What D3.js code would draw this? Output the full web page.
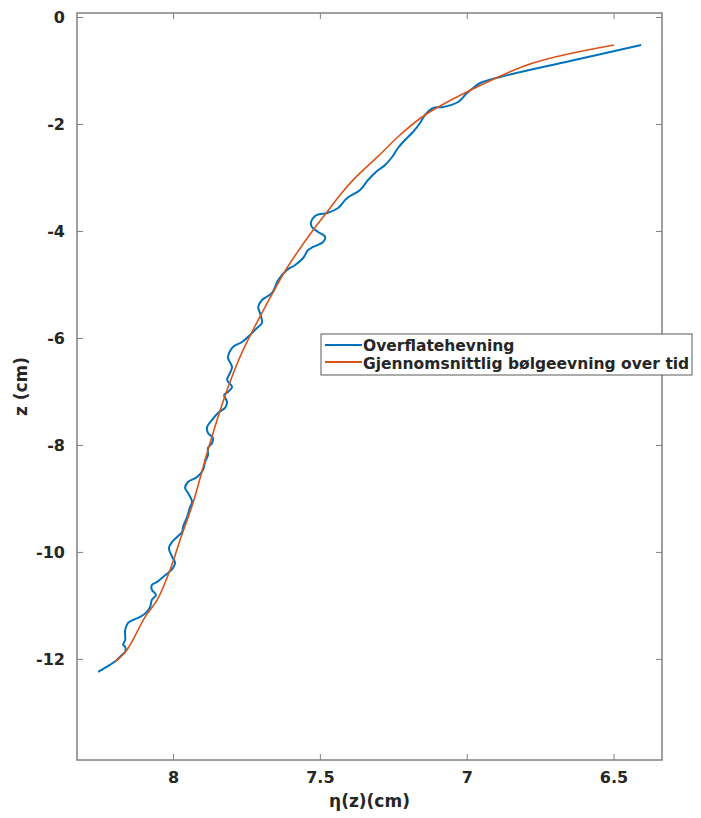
<!DOCTYPE html>
<html>
<head>
<meta charset="utf-8">
<script src="https://cdn.jsdelivr.net/npm/d3@7"></script>
<style>
    body { margin: 0; background: #fff; }
    #chart { width: 701px; height: 818px; }
    text { font-family: "DejaVu Sans", sans-serif; font-weight: bold; fill: #262626; }
</style>
</head>
<body>
<div id="chart"></div>
<script>
//Datos: eta (cm) y z (cm) de cada serie
let blueEta = [8.255, 8.215, 8.191, 8.174, 8.163, 8.163, 8.170, 8.163, 8.163, 8.153, 8.136, 8.112, 8.089, 8.078, 8.072, 8.058, 8.072, 8.072, 8.054, 8.034,
    8.017, 8.000, 7.993, 8.003, 8.014, 8.003, 7.986, 7.969, 7.966, 7.952, 7.942, 7.935, 7.949, 7.959, 7.949, 7.918, 7.898, 7.891, 7.881, 7.881,
    7.867, 7.864, 7.881, 7.884, 7.867, 7.847, 7.823, 7.816, 7.826, 7.813, 7.799, 7.816, 7.806, 7.799, 7.813, 7.809, 7.796, 7.765, 7.738, 7.714,
    7.697, 7.704, 7.710, 7.697, 7.663, 7.642, 7.612, 7.584, 7.557, 7.540, 7.523, 7.489, 7.482, 7.506, 7.527, 7.530, 7.510, 7.475, 7.438, 7.407,
    7.363, 7.336, 7.309, 7.278, 7.254, 7.234, 7.210, 7.183, 7.159, 7.142, 7.114, 7.080, 7.029, 6.999, 6.978, 6.954, 6.886, 6.648, 6.406];
let blueZ = [-12.243, -12.112, -12.019, -11.925, -11.869, -11.776, -11.738, -11.645, -11.458, -11.327, -11.271, -11.215, -11.121, -11.028, -10.897, -10.804, -10.710, -10.617, -10.561, -10.467,
    -10.393, -10.299, -10.206, -10.093, -9.925, -9.813, -9.720, -9.626, -9.533, -9.346, -9.159, -9.065, -8.897, -8.804, -8.692, -8.598, -8.467, -8.318, -8.187, -8.056,
    -7.963, -7.869, -7.776, -7.664, -7.533, -7.402, -7.308, -7.196, -7.065, -7.009, -6.916, -6.785, -6.654, -6.542, -6.374, -6.280, -6.168, -6.075, -5.944, -5.813,
    -5.720, -5.533, -5.421, -5.290, -5.159, -4.916, -4.729, -4.636, -4.505, -4.355, -4.299, -4.206, -4.112, -4.019, -3.925, -3.832, -3.701, -3.664, -3.570, -3.383,
    -3.234, -3.047, -2.897, -2.766, -2.617, -2.449, -2.299, -2.150, -1.981, -1.832, -1.701, -1.682, -1.589, -1.421, -1.327, -1.234, -1.121, -0.822, -0.523];

let orangeEta = [8.198, 8.157, 8.095, 8.054, 8.010, 7.976, 7.932, 7.884, 7.850, 7.816, 7.772, 7.731, 7.636, 7.612, 7.523, 7.478, 7.432, 7.384, 7.303, 7.227, 7.142, 6.965, 6.774, 6.498];
let orangeZ = [-12.056, -11.832, -11.215, -10.897, -10.336, -9.776, -9.084, -8.150, -7.533, -6.972, -6.355, -5.888, -4.916, -4.692, -3.981, -3.664, -3.330, -3.030, -2.610, -2.206, -1.832, -1.308, -0.860, -0.523];

let xTicks = [8, 7.5, 7, 6.5];
let yTicks = [0, -2, -4, -6, -8, -10, -12];
let seriesNames = ['Overflatehevning', 'Gjennomsnittlig bølgeevning over tid'];

//Colores fijos
const COLOR_BLUE = '#0072BD',
COLOR_ORANGE = '#D95319',
COLOR_AXIS = '#808080';

let margin = {top: 13, right: 39, bottom: 58, left: 77},
    width = 701 - margin.left - margin.right,
    height = 818 - margin.top - margin.bottom;

let svg = d3.select('#chart')
    .append('svg')
      .attr('width', 701)
      .attr('height', 818);

let chart = svg.append('g')
    .attr('transform', 'translate(' + margin.left + ',' + margin.top + ')');

//Eje X (invertido)
let x = d3.scaleLinear()
    .domain([8.327, 6.335])
    .range([0, width]);

//Eje Y
let y = d3.scaleLinear()
    .domain([-13.89, 0.075])
    .range([height, 0]);

function styleAxis(g) {
    g.select('.domain').remove();
    g.selectAll('.tick line').attr('stroke', COLOR_AXIS);
    g.selectAll('.tick text').style('font-size', '16px').attr('fill', '#262626');
}

chart.append('g')
    .attr('transform', 'translate(0,' + height + ')')
    .call(d3.axisBottom(x).tickValues(xTicks).tickSizeInner(-6).tickSizeOuter(0).tickPadding(12).tickFormat(d3.format('')))
    .call(styleAxis);

chart.append('g')
    .call(d3.axisTop(x).tickValues(xTicks).tickSizeInner(-6).tickSizeOuter(0).tickFormat(''))
    .call(styleAxis);

chart.append('g')
    .call(d3.axisLeft(y).tickValues(yTicks).tickSizeInner(-6).tickSizeOuter(0).tickPadding(12).tickFormat(function(d) { return d < 0 ? '-' + Math.abs(d) : d; }))
    .call(styleAxis);

chart.append('g')
    .attr('transform', 'translate(' + width + ',0)')
    .call(d3.axisRight(y).tickValues(yTicks).tickSizeInner(-6).tickSizeOuter(0).tickFormat(''))
    .call(styleAxis);

//Caja
chart.append('rect')
    .attr('width', width)
    .attr('height', height)
    .attr('fill', 'none')
    .attr('stroke', COLOR_AXIS)
    .attr('stroke-width', 1.5);

//Lineas
let blueData = blueEta.map(function(d, i) { return [d, blueZ[i]]; });
let orangeData = orangeEta.map(function(d, i) { return [d, orangeZ[i]]; });

let line = d3.line()
    .x(function(d) { return x(d[0]); })
    .y(function(d) { return y(d[1]); })
    .curve(d3.curveCatmullRom.alpha(0.5));

chart.append('path')
    .datum(blueData)
    .attr('fill', 'none')
    .attr('stroke', COLOR_BLUE)
    .attr('stroke-width', 2)
    .attr('d', line);

chart.append('path')
    .datum(orangeData)
    .attr('fill', 'none')
    .attr('stroke', COLOR_ORANGE)
    .attr('stroke-width', 1.6)
    .attr('d', line);

//Títulos de ejes
svg.append('text')
    .attr('x', margin.left + width / 2)
    .attr('y', 807)
    .attr('text-anchor', 'middle')
    .style('font-size', '17px')
    .text('η(z)(cm)');

svg.append('text')
    .attr('transform', 'translate(27,' + (margin.top + height / 2) + ') rotate(-90)')
    .attr('text-anchor', 'middle')
    .style('font-size', '17px')
    .text('z (cm)');

//Leyenda
let legend = svg.append('g').attr('transform', 'translate(321,334)');

legend.append('rect')
    .attr('width', 371)
    .attr('height', 41)
    .attr('fill', '#fff')
    .attr('stroke', '#5a5a5a')
    .attr('stroke-width', 1);

[COLOR_BLUE, COLOR_ORANGE].forEach(function(c, i) {
    legend.append('line')
        .attr('x1', 4).attr('x2', 41)
        .attr('y1', 11 + i * 17).attr('y2', 11 + i * 17)
        .attr('stroke', c)
        .attr('stroke-width', 2);
    legend.append('text')
        .attr('x', 42)
        .attr('y', 17 + i * 18)
        .style('font-size', '15.5px')
        .text(seriesNames[i]);
});
</script>
</body>
</html>
